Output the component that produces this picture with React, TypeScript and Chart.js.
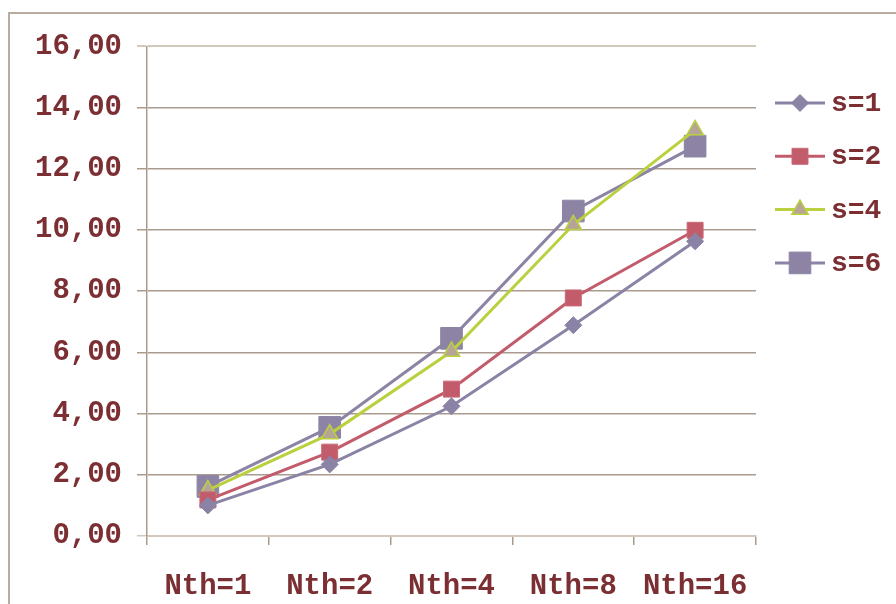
import { useEffect, useRef } from 'react';
import { Chart, registerables } from 'chart.js';
import { drawPoint } from 'chart.js/helpers';

Chart.register(...registerables);

// Thread counts along the horizontal axis
const categories = ['Nth=1', 'Nth=2', 'Nth=4', 'Nth=8', 'Nth=16'];

// Speed-up per series
const seriesLabels = ['s=1', 's=2', 's=4', 's=6'];
const s1Values = [1.0, 2.34, 4.24, 6.89, 9.63];
const s2Values = [1.18, 2.74, 4.8, 7.78, 9.99];
const s4Values = [1.5, 3.33, 6.03, 10.17, 13.27];
const s6Values = [1.62, 3.55, 6.46, 10.62, 12.74];

const Y_MIN = 0;
const Y_MAX = 16;
const Y_STEP = 2;

const TEXT_COLOR = '#7B2F33';
const GRID_COLOR = '#A99C8F';
const GRID_EDGE_COLOR = '#D2C8BC';
const FONT_FAMILY = '"Liberation Mono", "Courier New", monospace';

const formatTick = (v: number) => v.toFixed(2).replace('.', ',');

// Legend drawn to the right of the plot: a line segment with the marker, then the label
const sideLegend = {
  id: 'sideLegend',
  afterDraw(chart: any) {
    const { ctx, chartArea } = chart;
    const top = 89;
    const gap = 53.3;
    ctx.save();
    chart.data.datasets.forEach((ds: any, i: number) => {
      const y = top + i * gap;
      const x0 = chartArea.right + 19;
      const x1 = chartArea.right + 69;
      ctx.strokeStyle = ds.borderColor;
      ctx.lineWidth = ds.borderWidth;
      ctx.beginPath();
      ctx.moveTo(x0, y);
      ctx.lineTo(x1, y);
      ctx.stroke();
      ctx.fillStyle = ds.pointBackgroundColor;
      ctx.strokeStyle = ds.pointBorderColor;
      ctx.lineWidth = ds.pointBorderWidth;
      drawPoint(
        ctx,
        { pointStyle: ds.pointStyle, radius: ds.pointRadius, rotation: 0, borderWidth: ds.pointBorderWidth },
        (x0 + x1) / 2,
        y
      );
      ctx.fillStyle = TEXT_COLOR;
      ctx.font = `bold 28px ${FONT_FAMILY}`;
      ctx.textAlign = 'left';
      ctx.textBaseline = 'middle';
      ctx.fillText(ds.label, x1 + 6, y + 1);
    });
    ctx.restore();
  },
};

export default function App() {
  const canvasRef = useRef<HTMLCanvasElement | null>(null);

  useEffect(() => {
    const canvas = canvasRef.current;
    if (!canvas) return;

    const chart = new Chart(canvas, {
      type: 'line',
      data: {
        labels: categories,
        datasets: [
          {
            label: seriesLabels[0],
            data: s1Values,
            borderColor: '#8B83A5',
            borderWidth: 3,
            pointStyle: 'rectRot',
            pointRadius: 8.5,
            pointBackgroundColor: '#8B83A5',
            pointBorderColor: '#8B83A5',
            pointBorderWidth: 1,
          },
          {
            label: seriesLabels[1],
            data: s2Values,
            borderColor: '#C25B6A',
            borderWidth: 3,
            pointStyle: 'rect',
            pointRadius: 11.3,
            pointBackgroundColor: '#C25B6A',
            pointBorderColor: '#C86A78',
            pointBorderWidth: 1,
          },
          {
            label: seriesLabels[2],
            data: s4Values,
            borderColor: '#BBD03E',
            borderWidth: 3,
            pointStyle: 'triangle',
            pointRadius: 9.5,
            pointBackgroundColor: '#B6A497',
            pointBorderColor: '#BBD03E',
            pointBorderWidth: 1.5,
          },
          {
            label: seriesLabels[3],
            data: s6Values,
            borderColor: '#8D84A5',
            borderWidth: 3,
            pointStyle: 'rect',
            pointRadius: 15.3,
            pointBackgroundColor: '#8D84A5',
            pointBorderColor: '#8D84A5',
            pointBorderWidth: 1,
          },
        ],
      },
      options: {
        responsive: false,
        animation: false,
        events: [],
        layout: { padding: { top: 30, right: 140, left: 0, bottom: 0 } },
        plugins: {
          legend: { display: false },
          tooltip: { enabled: false },
          title: { display: false },
        },
        scales: {
          x: {
            type: 'category',
            offset: true,
            grid: {
              offset: true,
              drawOnChartArea: false,
              drawTicks: true,
              tickLength: 9,
              color: GRID_COLOR,
              lineWidth: 1.5,
            },
            border: { display: true, color: GRID_EDGE_COLOR, width: 2 },
            ticks: {
              color: TEXT_COLOR,
              font: { family: FONT_FAMILY, size: 29, weight: 'bold' },
              padding: 24,
              maxRotation: 0,
              autoSkip: false,
            },
            afterFit: (scale: any) => {
              scale.height = 68;
            },
          },
          y: {
            min: Y_MIN,
            max: Y_MAX,
            grid: {
              drawOnChartArea: true,
              drawTicks: true,
              tickLength: 10,
              color: (c: any) =>
                c.tick && (c.tick.value === Y_MAX || c.tick.value === Y_MIN) ? GRID_EDGE_COLOR : GRID_COLOR,
              lineWidth: (c: any) => (c.tick && c.tick.value === Y_MAX ? 2 : 1.5),
            },
            border: { display: true, color: GRID_COLOR, width: 1.5 },
            ticks: {
              stepSize: Y_STEP,
              color: TEXT_COLOR,
              font: { family: FONT_FAMILY, size: 29, weight: 'bold' },
              padding: 15,
              callback: (v: any) => formatTick(Number(v)),
            },
            afterFit: (scale: any) => {
              scale.width = 137;
            },
          },
        },
      },
      plugins: [sideLegend],
    });

    return () => chart.destroy();
  }, []);

  return (
    <div
      style={{
        position: 'fixed',
        left: 8,
        top: 12,
        width: 888,
        height: 592,
        boxSizing: 'border-box',
        borderTop: '2px solid #B9AC9F',
        borderLeft: '2px solid #B9AC9F',
        background: '#FFFFFF',
      }}
    >
      <canvas ref={canvasRef} width={886} height={590} style={{ display: 'block', width: 886, height: 590 }} />
    </div>
  );
}
